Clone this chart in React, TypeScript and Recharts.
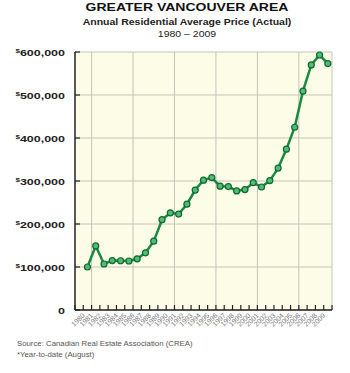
import React from 'react';
import { LineChart, Line, XAxis, YAxis, CartesianGrid } from 'recharts';

// Annual residential average price, Greater Vancouver (CREA)
const years = [
  1980, 1981, 1982, 1983, 1984, 1985, 1986, 1987, 1988, 1989,
  1990, 1991, 1992, 1993, 1994, 1995, 1996, 1997, 1998, 1999,
  2000, 2001, 2002, 2003, 2004, 2005, 2006, 2007, 2008, 2009,
];
const prices = [
  100000, 149000, 107000, 115000, 114500, 114000, 119000, 133000, 160000, 210000,
  226000, 223000, 246000, 279000, 302000, 308000, 288000, 287000, 277000, 280000,
  296000, 286000, 301000, 330000, 374000, 425000, 509000, 570000, 593000, 573000,
];
const priceTicks = [0, 100000, 200000, 300000, 400000, 500000, 600000];
const yearEdges = [
  1978.5, 1979.5, 1980.5, 1981.5, 1982.5, 1983.5, 1984.5, 1985.5, 1986.5, 1987.5,
  1988.5, 1989.5, 1990.5, 1991.5, 1992.5, 1993.5, 1994.5, 1995.5, 1996.5, 1997.5,
  1998.5, 1999.5, 2000.5, 2001.5, 2002.5, 2003.5, 2004.5, 2005.5, 2006.5, 2007.5,
  2008.5, 2009.5,
];
const gridYears = [1980.5, 1985.5, 1990.5, 1995.5, 2000.5, 2005.5, 2009.5];

const data = years.map((y, i) => ({ year: y, price: prices[i] }));

const FONT = '"Liberation Sans", Arial, Helvetica, sans-serif';
const SQUISH = 0.78;

const PriceTick = (props: any) => {
  const { x, y, payload } = props;
  const v = payload.value as number;
  const txt = v === 0 ? '0' : v.toLocaleString('en-US');
  return (
    <g>
      <line x1={x} y1={y} x2={x + 5} y2={y} stroke="#222" strokeWidth={1.2} />
      <g transform={`translate(${x - 10},${y + 4}) scale(1,${SQUISH})`}>
        <text x={0} y={0} textAnchor="end" fontFamily={FONT} fontWeight="bold" fontSize={12.5} fill="#222">
          {v !== 0 && <tspan fontSize={8} dy={-4}>$</tspan>}
          <tspan dy={v !== 0 ? 4 : 0}>{txt}</tspan>
        </text>
      </g>
    </g>
  );
};

const YearTick = (props: any) => {
  const { x, y, payload } = props;
  const year = payload.value + 0.5;
  const showLabel = year >= 1980 && year <= 2009;
  return (
    <g>
      <line x1={x} y1={y} x2={x} y2={y - 5} stroke="#222" strokeWidth={1.2} />
      {showLabel && (
        <text
          x={x + 2}
          y={y + 6}
          transform={`rotate(-45 ${x + 2} ${y + 6})`}
          textAnchor="end"
          fontFamily={FONT}
          fontSize={7}
          fill="#777"
        >
          {year}
        </text>
      )}
    </g>
  );
};

export default function App() {
  return (
    <div style={{ position: 'absolute', left: 0, top: 0, width: 350, height: 373, background: '#fff', fontFamily: FONT }}>
      <div style={{ position: 'absolute', left: 22, width: 330, top: -1, textAlign: 'center', fontWeight: 'bold', fontSize: 14, color: '#111', transform: `scaleY(${SQUISH})` }}>
        GREATER VANCOUVER AREA
      </div>
      <div style={{ position: 'absolute', left: 22, width: 330, top: 16, textAlign: 'center', fontWeight: 'bold', fontSize: 10.5, color: '#222', transform: `scaleY(${SQUISH})` }}>
        Annual Residential Average Price (Actual)
      </div>
      <div style={{ position: 'absolute', left: 22, width: 330, top: 28, textAlign: 'center', fontSize: 10.5, color: '#222', transform: `scaleY(${SQUISH})` }}>
        1980 – 2009
      </div>
      <div style={{ position: 'absolute', left: 0, top: 0 }}>
        <LineChart width={350} height={373} data={data} margin={{ top: 52, right: 18, left: 0, bottom: 33 }}>
          <CartesianGrid
            fill="#fdfce6"
            stroke="#c4c4bc"
            strokeWidth={1}
            horizontalValues={priceTicks}
            verticalValues={gridYears}
          />
          <XAxis
            dataKey="year"
            type="number"
            domain={[1978.5, 2009.5]}
            ticks={yearEdges}
            interval={0}
            tickLine={false}
            tickSize={0}
            tickMargin={0}
            height={30}
            axisLine={{ stroke: '#222', strokeWidth: 1.5 }}
            tick={<YearTick />}
          />
          <YAxis
            type="number"
            domain={[0, 600000]}
            ticks={priceTicks}
            interval={0}
            width={75}
            tickLine={false}
            tickSize={0}
            tickMargin={0}
            axisLine={{ stroke: '#222', strokeWidth: 1.5 }}
            tick={<PriceTick />}
          />
          <Line
            type="linear"
            dataKey="price"
            stroke="#178a44"
            strokeWidth={2.5}
            dot={{ r: 3, fill: '#52bb74', stroke: '#0e6a30', strokeWidth: 1.2 }}
            isAnimationActive={false}
          />
        </LineChart>
      </div>
      <div style={{ position: 'absolute', left: 17, top: 339, fontSize: 7.8, color: '#555' }}>
        Source: Canadian Real Estate Association (CREA)
      </div>
      <div style={{ position: 'absolute', left: 17, top: 350, fontSize: 7.8, color: '#555' }}>
        *Year-to-date (August)
      </div>
    </div>
  );
}
